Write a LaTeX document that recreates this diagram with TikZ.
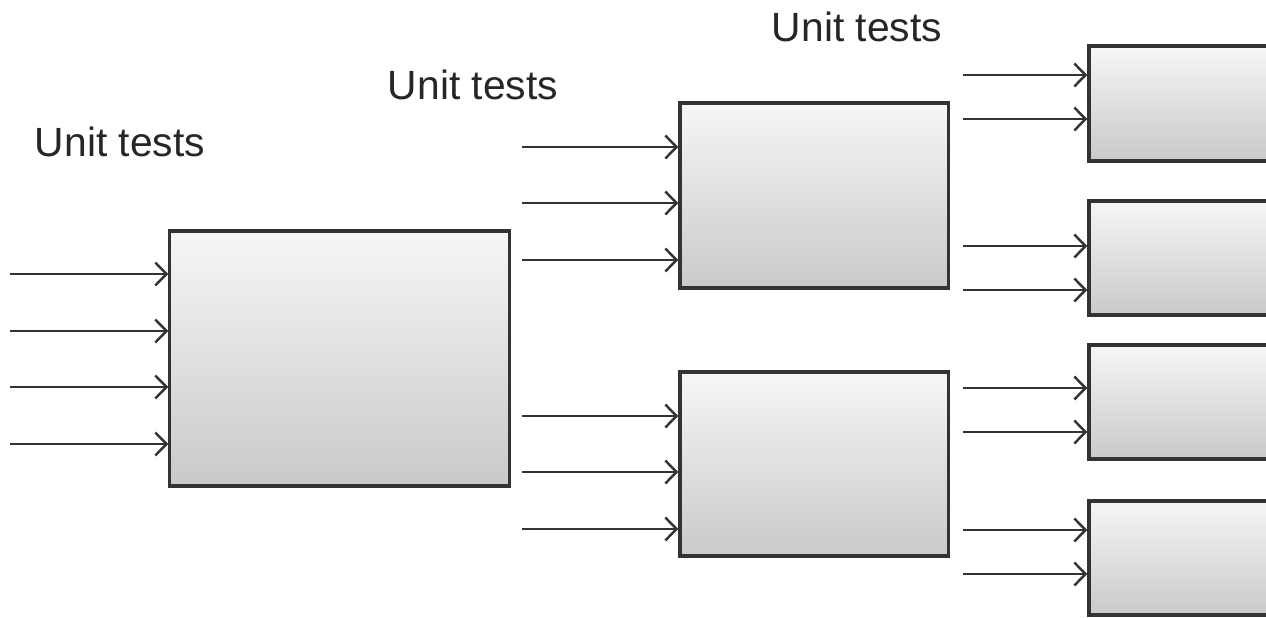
\documentclass[tikz,border=0pt]{standalone}
\usepackage{fontspec}
\setmainfont{Liberation Sans}
\usetikzlibrary{arrows.meta}

\begin{document}
\begin{tikzpicture}[
  x=0.01cm, y=-0.01cm,
  every node/.style={font=\fontsize{11.6}{14}\selectfont},
  block/.style={draw=black!80, line width=0.9pt, top color=gray!7, bottom color=gray!42, inner sep=0pt},
  tag/.style={inner sep=0pt, text=black!85},
  arrow/.style={draw=black!80, line width=0.7pt, -{Straight Barb[length=3.2pt, width=6.5pt, line width=0.7pt]}}
]
\useasboundingbox (0,0) rectangle (1266,618);
\begin{scope}
\clip (0,0) rectangle (1266,618);

% Labels
\node[tag] (ut1) at (120,142) {Unit tests};
\node[tag] (ut2) at (473,85) {Unit tests};
\node[tag] (ut3) at (857,27) {Unit tests};

% Blocks
\node[block, minimum width=3.39cm, minimum height=2.55cm] (main) at (339.5,358.5) {};
\node[block, minimum width=2.68cm, minimum height=1.85cm] (midA) at (814,195.5) {};
\node[block, minimum width=2.68cm, minimum height=1.84cm] (midB) at (814,464) {};
\node[block, minimum width=2.68cm, minimum height=1.15cm] (subA) at (1223,103.5) {};
\node[block, minimum width=2.68cm, minimum height=1.14cm] (subB) at (1223,258) {};
\node[block, minimum width=2.68cm, minimum height=1.14cm] (subC) at (1223,402) {};
\node[block, minimum width=2.68cm, minimum height=1.14cm] (subD) at (1223,558) {};

% Arrows
\foreach \y [count=\i] in {274,331,387,444} {
  \coordinate (m\i) at (10,\y);
  \draw[arrow] (m\i) -- (main.west |- m\i);
}
\foreach \y [count=\i] in {147,203,260} {
  \coordinate (a\i) at (522,\y);
  \draw[arrow] (a\i) -- (midA.west |- a\i);
}
\foreach \y [count=\i] in {416,472,529} {
  \coordinate (b\i) at (522,\y);
  \draw[arrow] (b\i) -- (midB.west |- b\i);
}
\foreach \blk/\ya/\yb in {subA/75/119, subB/246/290, subC/388/432, subD/530/574} {
  \coordinate (\blk s1) at (963,\ya);
  \coordinate (\blk s2) at (963,\yb);
  \draw[arrow] (\blk s1) -- (\blk.west |- \blk s1);
  \draw[arrow] (\blk s2) -- (\blk.west |- \blk s2);
}
\end{scope}
\end{tikzpicture}
\end{document}
